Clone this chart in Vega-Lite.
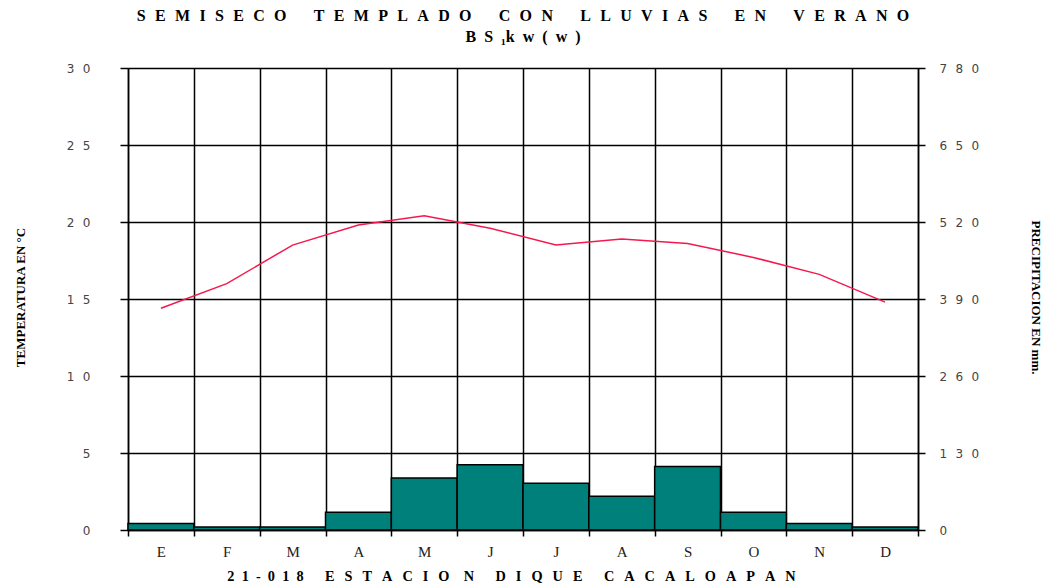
{
  "$schema": "https://vega.github.io/schema/vega-lite/v6.json",
  "width": 790,
  "height": 462,
  "autosize": "none",
  "padding": {"left": 128, "top": 68, "right": 133, "bottom": 58},
  "background": "white",
  "title": {
    "text": [
      "S\u2002\u200aE\u2002\u200aM\u2002\u200aI\u2002\u200aS\u2002\u200aE\u2002\u200aC\u2002\u200aO\u2003\u2002\u2009T\u2002\u200aE\u2002\u200aM\u2002\u200aP\u2002\u200aL\u2002\u200aA\u2002\u200aD\u2002\u200aO\u2003\u2002\u2009C\u2002\u200aO\u2002\u200aN\u2003\u2002\u2009L\u2002\u200aL\u2002\u200aU\u2002\u200aV\u2002\u200aI\u2002\u200aA\u2002\u200aS\u2003\u2002\u2009E\u2002\u200aN\u2003\u2002\u2009V\u2002\u200aE\u2002\u200aR\u2002\u200aA\u2002\u200aN\u2002\u200aO",
      "B\u2002S\u2002\u2081k\u2002w\u2002(\u2002w\u2002)"
    ],
    "font": "Liberation Serif",
    "fontSize": 16,
    "fontWeight": "bold",
    "color": "black",
    "anchor": "middle",
    "frame": "group",
    "offset": 17,
    "lineHeight": 21
  },
  "data": {
    "values": [
      {"m": 1, "temp": 14.4, "prec": 11},
      {"m": 2, "temp": 16.0, "prec": 5},
      {"m": 3, "temp": 18.5, "prec": 5},
      {"m": 4, "temp": 19.8, "prec": 30},
      {"m": 5, "temp": 20.4, "prec": 88},
      {"m": 6, "temp": 19.6, "prec": 110},
      {"m": 7, "temp": 18.5, "prec": 79},
      {"m": 8, "temp": 18.9, "prec": 57},
      {"m": 9, "temp": 18.6, "prec": 107},
      {"m": 10, "temp": 17.7, "prec": 30},
      {"m": 11, "temp": 16.6, "prec": 11},
      {"m": 12, "temp": 14.8, "prec": 5}
    ]
  },
  "encoding": {
    "x": {
      "field": "m",
      "type": "ordinal",
      "scale": {"paddingInner": 0, "paddingOuter": 0},
      "axis": {
        "title": "2\u20021\u2002-\u20020\u20021\u20028\u2003\u2002E\u2002\u2009S\u2002\u2009T\u2002\u2009A\u2002\u2009C\u2002\u2009I\u2002\u2009O\u2003N\u2003\u2002D\u2002\u2009I\u2002\u2009Q\u2002\u2009U\u2002\u2009E\u2003\u2002C\u2002\u2009A\u2002\u2009C\u2002\u2009A\u2002\u2009L\u2002\u2009O\u2002\u2009A\u2002\u2009P\u2002\u2009A\u2002\u2009N",
        "titleFont": "Liberation Serif",
        "titleFontSize": 14.3,
        "titleFontWeight": "bold",
        "titleColor": "black",
        "titleX": 383,
        "titleY": 46,
        "titleAlign": "center",
        "titleBaseline": "middle",
        "labelExpr": "['E','F','M','A','M','J','J','A','S','O','N','D'][datum.value - 1]",
        "labelFont": "Liberation Serif",
        "labelFontSize": 15,
        "labelColor": "#222222",
        "labelAngle": 0,
        "labelPadding": 8,
        "tickBand": "extent",
        "tickSize": 6,
        "tickColor": "black",
        "tickWidth": 1.5,
        "domainColor": "black",
        "domainWidth": 1.5,
        "grid": true,
        "gridColor": "black",
        "gridWidth": 1.5,
        "gridOpacity": 1
      }
    }
  },
  "layer": [
    {
      "mark": {"type": "bar", "fill": "#00807a", "stroke": "black", "strokeWidth": 1.5},
      "encoding": {
        "y": {
          "field": "prec",
          "type": "quantitative",
          "scale": {"domain": [0, 780], "nice": false},
          "axis": {
            "orient": "right",
            "values": [0, 130, 260, 390, 520, 650, 780],
            "grid": false,
            "labelExpr": "join(split(datum.label, ''), '\u2002\u2009')",
            "labelFont": "DejaVu Sans",
            "labelFontSize": 12,
            "labelColor": "#444444",
            "labelPadding": 14,
            "tickSize": 7,
            "tickColor": "black",
            "tickWidth": 1.5,
            "domainColor": "black",
            "domainWidth": 1.5,
            "title": "PRECIPITACION EN mm.",
            "titleFont": "Liberation Serif",
            "titleFontSize": 13,
            "titleFontWeight": "bold",
            "titleColor": "black",
            "titleAngle": 90,
            "titleX": 117,
            "titleY": 229,
            "titleAlign": "center",
            "titleBaseline": "middle"
          }
        }
      }
    },
    {
      "mark": {"type": "line", "color": "#f5184f", "strokeWidth": 1.5},
      "encoding": {
        "y": {
          "field": "temp",
          "type": "quantitative",
          "scale": {"domain": [0, 30], "nice": false},
          "axis": {
            "orient": "left",
            "values": [0, 5, 10, 15, 20, 25, 30],
            "grid": true,
            "gridColor": "black",
            "gridWidth": 1.5,
            "gridOpacity": 1,
            "labelExpr": "join(split(datum.label, ''), '\u2002\u2009')",
            "labelFont": "DejaVu Sans",
            "labelFontSize": 12,
            "labelColor": "#444444",
            "labelPadding": 30,
            "tickSize": 8,
            "tickColor": "black",
            "tickWidth": 1.5,
            "domainColor": "black",
            "domainWidth": 1.5,
            "title": "TEMPERATURA EN °C",
            "titleFont": "Liberation Serif",
            "titleFontSize": 13,
            "titleFontWeight": "bold",
            "titleColor": "black",
            "titleAngle": -90,
            "titleX": -108,
            "titleY": 229,
            "titleAlign": "center",
            "titleBaseline": "middle"
          }
        }
      }
    }
  ],
  "resolve": {"scale": {"y": "independent"}},
  "config": {"view": {"stroke": null}}
}
